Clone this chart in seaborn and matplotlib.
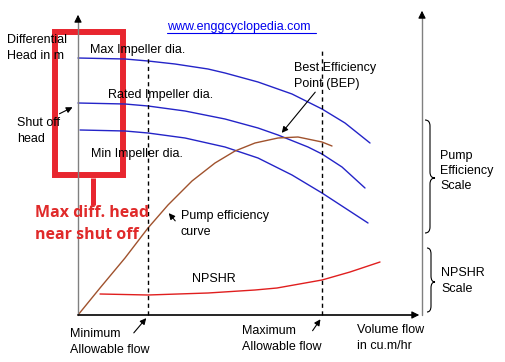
import matplotlib.pyplot as plt
import seaborn as sns
import pandas as pd
from matplotlib.path import Path
from matplotlib.patches import PathPatch, Rectangle

# flow / head values (origin = where the axes meet)
max_flow = [0, 47, 70, 97, 130, 147, 180, 214, 244, 267, 292]
max_head = [257, 256, 254, 251, 246, 242, 233, 221, 206, 192, 172]

rated_flow = [0, 47, 70, 107, 147, 180, 200, 230, 244, 264, 287]
rated_head = [212, 211, 209, 204, 196, 187, 180, 168, 161, 148, 127]

min_flow = [2, 47, 70, 107, 147, 180, 214, 244, 267, 290]
min_head = [185, 184, 182, 177, 168, 157, 140, 122, 107, 92]

eff_flow = [0, 22, 47, 70, 90, 114, 137, 157, 177, 200, 220, 244, 254]
eff_value = [0, 27, 57, 87, 110, 134, 152, 164, 172, 177, 178, 173, 169]

npshr_flow = [22, 70, 130, 177, 199, 244, 272, 302]
npshr_value = [21, 20, 22, 25, 27, 35, 43, 53]

min_allowable = 70
max_allowable = 244
right_axis = 344

sns.set_style("white")
plt.rcParams["font.family"] = ["Liberation Sans", "DejaVu Sans"]

fig = plt.figure(figsize=(5.06, 3.62), dpi=100)
ax = fig.add_axes([0, 0, 1, 1])
ax.set_xlim(-78, 428)
ax.set_ylim(-47, 315)
ax.axis("off")

curves = pd.concat([
    pd.DataFrame({"flow": max_flow, "y": max_head, "curve": "max"}),
    pd.DataFrame({"flow": rated_flow, "y": rated_head, "curve": "rated"}),
    pd.DataFrame({"flow": min_flow, "y": min_head, "curve": "min"}),
])
sns.lineplot(data=curves, x="flow", y="y", units="curve", estimator=None,
             sort=False, color="#2424c8", lw=1.0, ax=ax)
sns.lineplot(x=eff_flow, y=eff_value, sort=False, color="#a0522d", lw=1.0, ax=ax)
sns.lineplot(x=npshr_flow, y=npshr_value, sort=False, color="#e01e1e", lw=1.0, ax=ax)

# allowable flow limits
ax.plot([min_allowable, min_allowable], [0, 259], ls=(0, (3, 2.5)), color="black", lw=1.0)
ax.plot([max_allowable, max_allowable], [0, 267], ls=(0, (3, 2.5)), color="black", lw=1.0)

# axes with arrow heads
ax.plot([0, 0], [0, 296], color="#808080", lw=1.0)
ax.plot([right_axis, right_axis], [0, 300], color="#808080", lw=1.0)
ax.plot([0, right_axis - 6], [0, 0], color="black", lw=1.2)
head = dict(arrowstyle="-|>", color="black", mutation_scale=11, lw=0.8)
ax.annotate("", xy=(0, 303), xytext=(0, 294), arrowprops=head)
ax.annotate("", xy=(right_axis, 307), xytext=(right_axis, 298), arrowprops=head)
ax.annotate("", xy=(right_axis, 0), xytext=(right_axis - 9, 0), arrowprops=head)


def brace(x0, x1, top, tip, bot):
    xm = (x0 + x1) / 2
    r = 6
    verts = [(x0, top), (xm, top), (xm, top - r),
             (xm, tip + r), (xm, tip), (x1, tip),
             (xm, tip), (xm, tip - r),
             (xm, bot + r), (xm, bot), (x0, bot)]
    codes = [Path.MOVETO, Path.CURVE3, Path.CURVE3,
             Path.LINETO, Path.CURVE3, Path.CURVE3,
             Path.CURVE3, Path.CURVE3,
             Path.LINETO, Path.CURVE3, Path.CURVE3]
    ax.add_patch(PathPatch(Path(verts, codes), fc="none", ec="black", lw=0.8))


brace(347, 357, 195, 137, 82)
brace(349, 357, 67, 33, 3)

# red highlight box
ax.add_patch(Rectangle((-23, 140), 68.5, 143.5, fc="none", ec="#e8262f", lw=4.3))
ax.plot([15, 15], [137, 110], color="#e8262f", lw=3.6, solid_capstyle="butt")
red = dict(color="#e02a2a", fontsize=11.5, fontweight="bold",
           family=["Open Sans", "DejaVu Sans"], va="center")
ax.text(-43, 102, "Max diff. head", **red)
ax.text(-43, 80, "near shut off", **red)

fs = 9
ax.text(89, 288, "www.enggcyclopedia.com", color="#0000ee", fontsize=fs, va="center")
ax.plot([89, 238], [282, 282], color="#0000ee", lw=0.8)

txt = dict(fontsize=fs, color="black", va="center", linespacing=1.35)
ax.text(-71, 267, "Differential\nHead in m", **txt)
ax.text(12, 265, "Max Impeller dia.", **txt)
ax.text(30, 220, "Rated Impeller dia.", **txt)
ax.text(-61, 184, "Shut off\nhead", **txt)
ax.text(13, 161, "Min Impeller dia.", **txt)
ax.text(216, 239, "Best Efficiency\nPoint (BEP)", **txt)
ax.text(103, 91, "Pump efficiency\ncurve", **txt)
ax.text(114, 36, "NPSHR", **txt)
ax.text(-8, -27, "Minimum\nAllowable flow", **txt)
ax.text(164, -24, "Maximum\nAllowable flow", **txt)
ax.text(279, -23, "Volume flow\nin cu.m/hr", **txt)
ax.text(362, 144, "Pump\nEfficiency\nScale", **txt)
ax.text(363, 34, "NPSHR\nScale", **txt)

small = dict(arrowstyle="-|>", color="black", mutation_scale=9, lw=0.8)
ax.annotate("", xy=(-3, 209), xytext=(-21, 200), arrowprops=small)
ax.annotate("", xy=(202, 180), xytext=(239, 225), arrowprops=small)
ax.annotate("", xy=(89, 104), xytext=(99, 92), arrowprops=small)
ax.annotate("", xy=(min_allowable, -1), xytext=(54, -20), arrowprops=small)
ax.annotate("", xy=(max_allowable, -2), xytext=(233, -18), arrowprops=small)

fig.savefig("out.png", dpi=100)
